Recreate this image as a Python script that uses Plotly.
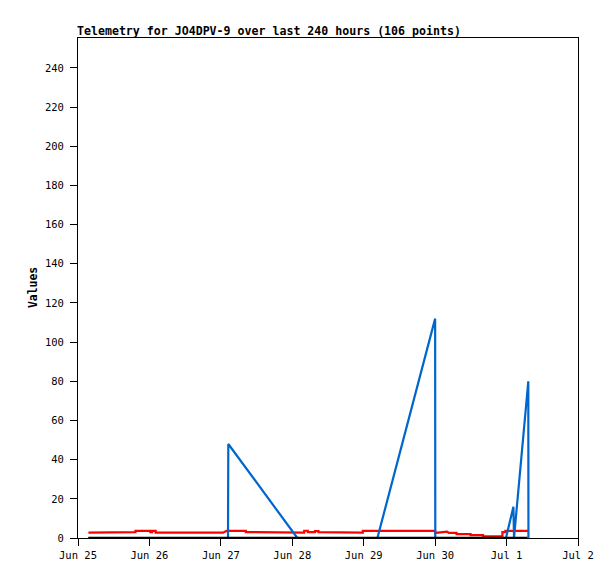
import pandas as pd
import plotly.graph_objects as go

BASE = "2025-06-25 00:00"

# hours since Jun 25 00:00 and values
red_hours = [3.5, 9.2, 9.2, 19.3, 19.3, 24.3, 24.3, 24.9, 24.9, 26.1, 26.1, 48.7, 49.9, 56.4, 56.4,
             67.7, 67.7, 76.0, 76.0, 77.2, 77.2, 79.6, 79.6, 80.8, 80.8, 86.7, 86.7, 95.7, 95.7,
             120.0, 120.0, 124.0, 124.6, 127.2, 127.2, 131.9, 131.9, 136.1, 136.1, 142.6, 142.6,
             143.6, 143.6, 151.2]
red_values = [2.7, 2.7, 3.0, 3.0, 3.6, 3.6, 3.0, 3.0, 3.6, 3.6, 2.7, 2.7, 3.6, 3.6, 3.0,
              3.0, 2.7, 2.7, 3.7, 3.7, 3.0, 3.0, 3.5, 3.5, 3.0, 3.0, 2.7, 2.7, 3.6,
              3.6, 2.6, 3.3, 2.6, 2.6, 2.0, 2.0, 1.5, 1.5, 0.9, 0.9, 3.0,
              3.0, 3.6, 3.6]

blue_hours = [3.5, 50.4, 50.5, 73.7, 100.6, 120.0, 120.05, 143.8, 146.3, 146.5, 151.3, 151.35]
blue_values = [0, 0, 48, 0, 0, 112, 0, 0, 16, 0, 80, 0]

black_hours = [3.5, 151.0]
black_values = [0, 0]

tick_dates = ["2025-06-25", "2025-06-26", "2025-06-27", "2025-06-28",
              "2025-06-29", "2025-06-30", "2025-07-01", "2025-07-02"]
tick_labels = ["Jun 25", "Jun 26", "Jun 27", "Jun 28", "Jun 29", "Jun 30", "Jul 1", "Jul 2"]
y_ticks = [0, 20, 40, 60, 80, 100, 120, 140, 160, 180, 200, 220, 240]

TITLE = "Telemetry for JO4DPV-9 over last 240 hours (106 points)"


def to_times(hours):
    b = pd.Timestamp(BASE)
    return [b + pd.Timedelta(hours=h) for h in hours]


fig = go.Figure()
fig.add_trace(go.Scatter(x=to_times(red_hours), y=red_values, mode="lines",
                         line=dict(color="#ff0000", width=2.2), hoverinfo="skip"))
fig.add_trace(go.Scatter(x=to_times(blue_hours), y=blue_values, mode="lines",
                         line=dict(color="#0066cc", width=2.2), hoverinfo="skip"))
fig.add_trace(go.Scatter(x=to_times(black_hours), y=black_values, mode="lines",
                         line=dict(color="#000000", width=2.5), hoverinfo="skip"))

W, H = 607, 571
mono = "DejaVu Sans Mono"
fig.update_layout(
    width=W, height=H,
    margin=dict(l=70, r=37, t=30, b=41, autoexpand=False),
    paper_bgcolor="white", plot_bgcolor="white",
    showlegend=False,
    font=dict(family=mono, size=10, color="black"),
    title=dict(text="<b>" + TITLE + "</b>", x=69 / W, xanchor="left", xref="container",
               y=1 - 23 / H, yanchor="middle", yref="container", pad=dict(l=0, r=0, t=0, b=0),
               font=dict(family=mono, size=11.6, color="black")),
    xaxis=dict(type="date", range=[tick_dates[0], tick_dates[-1]],
               tickvals=tick_dates, ticktext=tick_labels,
               showgrid=False, zeroline=False, showline=True, linecolor="black", linewidth=1,
               mirror=True, ticks="outside", ticklen=7, tickcolor="black", tickwidth=1,
               tickfont=dict(family=mono, size=10.5, color="black")),
    yaxis=dict(range=[0, 255.3], tickvals=y_ticks,
               showgrid=False, zeroline=False, showline=True, linecolor="black", linewidth=1,
               mirror=True, ticks="outside", ticklen=7, tickcolor="black", tickwidth=1,
               ticklabelstandoff=4,
               tickfont=dict(family=mono, size=10.5, color="black")),
    annotations=[dict(text="<b>Values</b>", textangle=-90, x=-0.108, y=0.5,
                      xref="paper", yref="paper", showarrow=False,
                      font=dict(family=mono, size=11.4, color="black"))],
)
fig.write_html("out.html")
